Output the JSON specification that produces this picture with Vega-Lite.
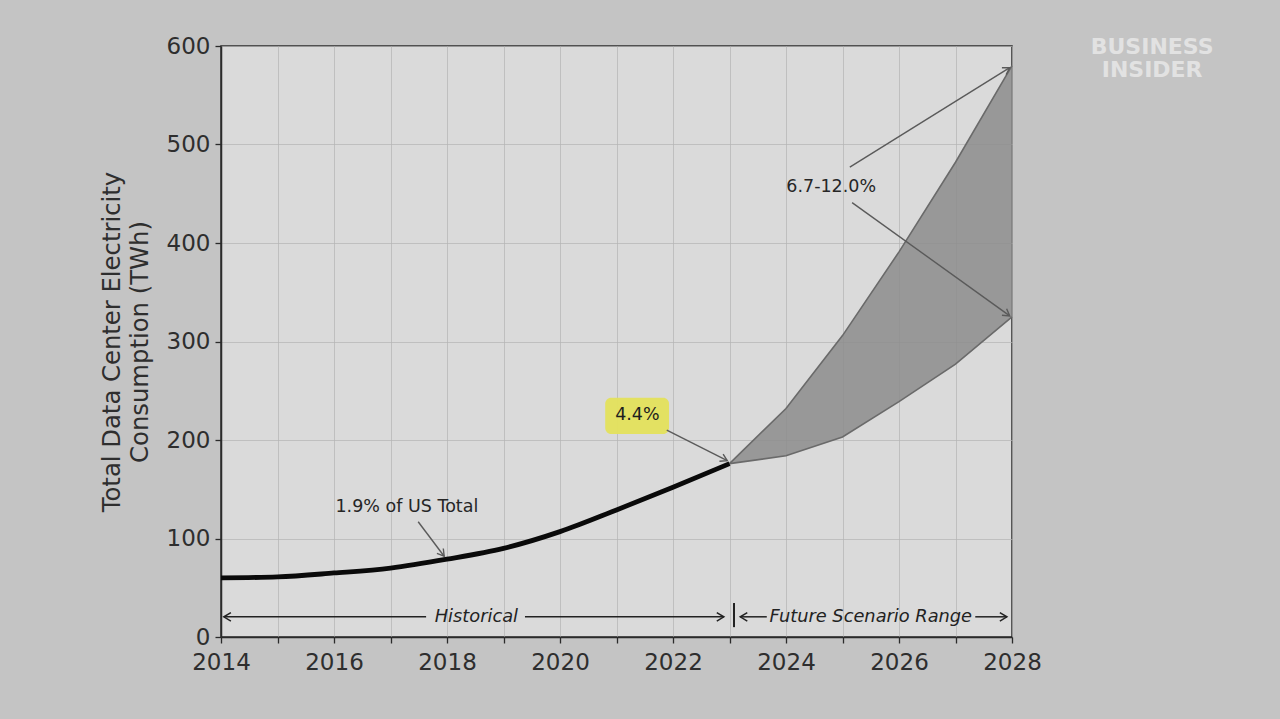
{
  "$schema": "https://vega.github.io/schema/vega-lite/v6.json",
  "width": 791,
  "height": 591,
  "autosize": {"type": "none"},
  "padding": {"left": 221, "top": 46, "right": 268, "bottom": 82},
  "background": "#c4c4c4",
  "config": {
    "font": "DejaVu Sans",
    "view": {"fill": "#dadada", "stroke": "#2b2b2b", "strokeWidth": 1.5},
    "axis": {
      "labelFont": "DejaVu Sans",
      "titleFont": "DejaVu Sans",
      "labelFontSize": 23,
      "titleFontSize": 24.3,
      "labelColor": "#2e2e2e",
      "titleColor": "#2e2e2e",
      "titleFontWeight": "normal",
      "domainColor": "#2b2b2b",
      "domainWidth": 1.5,
      "tickColor": "#2b2b2b",
      "tickWidth": 1.3,
      "tickSize": 6,
      "gridColor": "#b4b4b4",
      "gridWidth": 1,
      "gridOpacity": 0.7
    }
  },
  "datasets": {
    "hist": [
      {"year": 2014, "twh": 60},
      {"year": 2015, "twh": 61},
      {"year": 2016, "twh": 65},
      {"year": 2017, "twh": 70},
      {"year": 2018, "twh": 79},
      {"year": 2019, "twh": 90},
      {"year": 2020, "twh": 107},
      {"year": 2021, "twh": 129},
      {"year": 2022, "twh": 152},
      {"year": 2023, "twh": 176}
    ],
    "band": [
      {"year": 2023, "low": 176, "high": 176},
      {"year": 2024, "low": 184, "high": 232},
      {"year": 2025, "low": 203, "high": 306},
      {"year": 2026, "low": 239, "high": 391},
      {"year": 2027, "low": 277, "high": 482},
      {"year": 2028, "low": 325, "high": 580}
    ],
    "callouts": [
      {"x": 2017.49, "y": 117, "x2": 2017.95, "y2": 82, "angle": 52.6},
      {"x": 2021.89, "y": 210, "x2": 2022.96, "y2": 179, "angle": 27.3},
      {"x": 2025.13, "y": 477, "x2": 2027.96, "y2": 578, "angle": -31.7},
      {"x": 2025.17, "y": 441, "x2": 2027.96, "y2": 326, "angle": 35.6}
    ],
    "spans": [
      {"x": 2017.63, "y": 20.5, "x2": 2014.05, "y2": 20.5, "angle": 180},
      {"x": 2019.38, "y": 20.5, "x2": 2022.9, "y2": 20.5, "angle": 0},
      {"x": 2023.66, "y": 20.5, "x2": 2023.19, "y2": 20.5, "angle": 180},
      {"x": 2027.35, "y": 20.5, "x2": 2027.91, "y2": 20.5, "angle": 0}
    ],
    "divider": [
      {"x": 2023.08, "y": 10, "y2": 34.5}
    ],
    "notes": [
      {"x": 2017.29, "y": 132, "text": "1.9% of US Total"},
      {"x": 2024.8, "y": 457, "text": "6.7-12.0%"}
    ],
    "spanLabels": [
      {"x": 2018.52, "y": 20.5, "text": "Historical"},
      {"x": 2025.5, "y": 20.5, "text": "Future Scenario Range"}
    ],
    "highlight": [
      {"x": 2020.8, "x2": 2021.93, "y": 206, "y2": 243, "text": "4.4%", "tx": 2021.37, "ty": 225}
    ],
    "logo": [
      {"x": 2030.48, "y": 599, "text": "BUSINESS\nINSIDER"}
    ]
  },
  "layer": [
    {
      "data": {"name": "band"},
      "mark": {"type": "area", "fill": "#8c8c8c", "fillOpacity": 0.85, "stroke": null},
      "encoding": {
        "x": {
          "field": "year", "type": "quantitative",
          "scale": {"domain": [2014, 2028], "nice": false, "zero": false},
          "axis": {
            "title": null,
            "values": [2014, 2015, 2016, 2017, 2018, 2019, 2020, 2021, 2022, 2023, 2024, 2025, 2026, 2027, 2028],
            "format": "d",
            "labelExpr": "datum.value % 2 == 0 ? datum.label : ''",
            "labelPadding": 8,
            "labelFlush": false,
            "grid": true
          }
        },
        "y": {
          "field": "high", "type": "quantitative",
          "scale": {"domain": [0, 600], "nice": false},
          "axis": {
            "title": ["Total Data Center Electricity", "Consumption (TWh)"],
            "values": [0, 100, 200, 300, 400, 500, 600],
            "labelPadding": 5,
            "labelFlush": false,
            "titlePadding": 14,
            "titleLineHeight": 28,
            "grid": true
          }
        },
        "y2": {"field": "low"}
      }
    },
    {
      "data": {"name": "band"},
      "mark": {"type": "line", "stroke": "#6a6a6a", "strokeWidth": 1.6},
      "encoding": {
        "x": {"field": "year", "type": "quantitative"},
        "y": {"field": "high", "type": "quantitative"}
      }
    },
    {
      "data": {"name": "band"},
      "mark": {"type": "line", "stroke": "#6a6a6a", "strokeWidth": 1.6},
      "encoding": {
        "x": {"field": "year", "type": "quantitative"},
        "y": {"field": "low", "type": "quantitative"}
      }
    },
    {
      "data": {"name": "hist"},
      "mark": {"type": "line", "stroke": "#0a0a0a", "strokeWidth": 4.8, "interpolate": "monotone", "strokeCap": "butt"},
      "encoding": {
        "x": {"field": "year", "type": "quantitative"},
        "y": {"field": "twh", "type": "quantitative"}
      }
    },
    {
      "data": {"name": "highlight"},
      "mark": {"type": "rect", "fill": "#e4e25c", "cornerRadius": 6, "opacity": 0.95},
      "encoding": {
        "x": {"field": "x", "type": "quantitative"},
        "x2": {"field": "x2"},
        "y": {"field": "y", "type": "quantitative"},
        "y2": {"field": "y2"}
      }
    },
    {
      "data": {"name": "highlight"},
      "mark": {"type": "text", "fontSize": 17.5, "color": "#1e1e1e", "align": "center", "baseline": "middle"},
      "encoding": {
        "x": {"field": "tx", "type": "quantitative"},
        "y": {"field": "ty", "type": "quantitative"},
        "text": {"field": "text"}
      }
    },
    {
      "data": {"name": "callouts"},
      "mark": {"type": "rule", "stroke": "#5a5a5a", "strokeWidth": 1.4},
      "encoding": {
        "x": {"field": "x", "type": "quantitative"},
        "y": {"field": "y", "type": "quantitative"},
        "x2": {"field": "x2"},
        "y2": {"field": "y2"}
      }
    },
    {
      "data": {"name": "callouts"},
      "mark": {"type": "point", "shape": "M-1,-0.6L0,0L-1,0.6", "filled": false, "stroke": "#5a5a5a", "strokeWidth": 1.4, "size": 180, "opacity": 1},
      "encoding": {
        "x": {"field": "x2", "type": "quantitative"},
        "y": {"field": "y2", "type": "quantitative"},
        "angle": {"field": "angle", "type": "quantitative", "scale": null}
      }
    },
    {
      "data": {"name": "spans"},
      "mark": {"type": "rule", "stroke": "#222222", "strokeWidth": 1.5},
      "encoding": {
        "x": {"field": "x", "type": "quantitative"},
        "y": {"field": "y", "type": "quantitative"},
        "x2": {"field": "x2"},
        "y2": {"field": "y2"}
      }
    },
    {
      "data": {"name": "spans"},
      "mark": {"type": "point", "shape": "M-1,-0.6L0,0L-1,0.6", "filled": false, "stroke": "#222222", "strokeWidth": 1.5, "size": 200, "opacity": 1},
      "encoding": {
        "x": {"field": "x2", "type": "quantitative"},
        "y": {"field": "y2", "type": "quantitative"},
        "angle": {"field": "angle", "type": "quantitative", "scale": null}
      }
    },
    {
      "data": {"name": "divider"},
      "mark": {"type": "rule", "stroke": "#222222", "strokeWidth": 2},
      "encoding": {
        "x": {"field": "x", "type": "quantitative"},
        "y": {"field": "y", "type": "quantitative"},
        "y2": {"field": "y2"}
      }
    },
    {
      "data": {"name": "notes"},
      "mark": {"type": "text", "fontSize": 17.5, "color": "#262626", "align": "center", "baseline": "middle"},
      "encoding": {
        "x": {"field": "x", "type": "quantitative"},
        "y": {"field": "y", "type": "quantitative"},
        "text": {"field": "text"}
      }
    },
    {
      "data": {"name": "spanLabels"},
      "mark": {"type": "text", "fontSize": 17.8, "fontStyle": "italic", "color": "#222222", "align": "center", "baseline": "middle"},
      "encoding": {
        "x": {"field": "x", "type": "quantitative"},
        "y": {"field": "y", "type": "quantitative"},
        "text": {"field": "text"}
      }
    },
    {
      "data": {"name": "logo"},
      "mark": {"type": "text", "fontSize": 22, "fontWeight": "bold", "color": "#e2e2e2", "align": "center", "baseline": "middle", "lineBreak": "\n", "lineHeight": 23},
      "encoding": {
        "x": {"field": "x", "type": "quantitative", "scale": {"domain": [2014, 2028], "nice": false, "zero": false}},
        "y": {"field": "y", "type": "quantitative", "scale": {"domain": [0, 600], "nice": false}},
        "text": {"field": "text"}
      }
    }
  ]
}
